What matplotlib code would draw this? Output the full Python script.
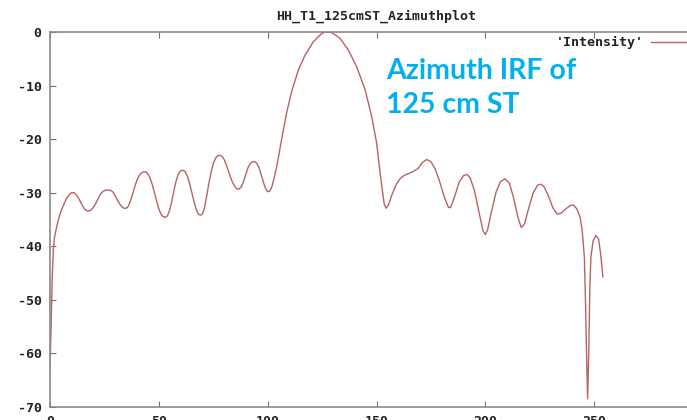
import matplotlib
matplotlib.use("Agg")
import matplotlib.pyplot as plt

# Data (azimuth sample index vs. intensity in dB)
azimuth = [
    0, 0.5, 1, 1.5, 2, 3, 4, 5, 6, 7, 8, 9, 10, 11, 12, 13, 14, 15, 16, 17, 18, 19,
    20, 21, 22, 23, 24, 25, 26, 27, 28, 29, 30, 31, 32, 33, 34, 35, 36, 37, 38, 39,
    40, 41, 42, 43, 44, 45, 46, 47, 48, 49, 50, 51, 52, 53, 54, 55, 56, 57, 58, 59,
    60, 61, 62, 63, 64, 65, 66, 67, 68, 69, 70, 71, 72, 73, 74, 75, 76, 77, 78, 79,
    80, 81, 82, 83, 84, 85, 86, 87, 88, 89, 90, 91, 92, 93, 94, 95, 96, 97, 98, 99,
    100, 101, 102, 103, 104.2, 106.5, 108.8, 111.1, 114.1, 117.2, 121.0, 124.9,
    126.8, 129.4, 133.3, 137.1, 140.9, 144.8, 147.8, 150.1, 151.3, 152.5, 153.5,
    154.4, 155.5, 157, 159, 161, 163, 165, 167, 169, 171, 173, 175, 177, 179, 181,
    183, 184, 186, 188, 190, 191.6, 193, 195, 197, 199, 200, 201, 203, 205, 207,
    209, 211, 213, 215, 216.5, 218, 220, 222, 224, 225.5, 227, 229, 231, 233, 235,
    237, 239, 240.5, 242, 243.5, 244.5, 245.5, 246, 246.5, 247, 247.5, 248, 248.5,
    249.5, 250.8, 252, 253, 254,
]
intensity = [
    -63, -55, -46, -41, -38.5, -36.5, -34.8, -33.5, -32.5, -31.6, -30.8, -30.3,
    -30.0, -30.0, -30.3, -30.9, -31.7, -32.5, -33.1, -33.4, -33.4, -33.2,
    -32.7, -32.0, -31.2, -30.4, -29.9, -29.6, -29.5, -29.5, -29.6, -29.9, -30.6,
    -31.4, -32.1, -32.6, -32.9, -32.9, -32.5, -31.5, -30.2, -28.8,
    -27.6, -26.8, -26.3, -26.1, -26.1, -26.5, -27.3, -28.5, -30.0, -31.6, -33.0,
    -34.0, -34.5, -34.6, -34.3, -33.2, -31.5, -29.5, -27.7, -26.5,
    -25.9, -25.8, -26.0, -26.8, -28.1, -29.7, -31.4, -32.9, -33.9, -34.2, -34.0,
    -32.8, -30.6, -28.2, -26.2, -24.6, -23.6, -23.1, -23.0, -23.2,
    -23.8, -24.8, -26.0, -27.2, -28.2, -28.9, -29.3, -29.3, -28.8, -27.8, -26.5,
    -25.3, -24.6, -24.2, -24.2, -24.5, -25.3, -26.6, -28.0, -29.2,
    -29.8, -29.7, -28.8, -27.2, -25.1, -19.8, -14.9, -11.0,
    -7.1, -4.3, -1.8, -0.25,
    0.0, -0.1, -1.2, -3.4, -6.5, -10.8, -15.8, -20.8, -25.1, -29.0, -32.0,
    -32.9, -32.3, -30.5, -28.5, -27.3, -26.7, -26.4, -26.0, -25.5, -24.4, -23.8,
    -24.2, -25.6, -27.9, -30.6,
    -32.7, -32.8, -30.6, -28.0, -26.8, -26.6, -27.2, -29.6, -33.5, -37.2, -37.8,
    -37.0, -33.2, -29.8, -27.9,
    -27.4, -28.2, -31.0, -34.6, -36.5, -35.8, -32.8, -30.0, -28.6, -28.4, -28.9,
    -30.6, -32.8, -34.0, -33.8,
    -33.0, -32.4, -32.3, -33.0, -34.5, -37.0, -42, -50, -60, -68.5, -60, -48, -42,
    -39, -38.0, -38.6, -41.5, -45.7,
]

title = "HH_T1_125cmST_Azimuthplot"
xticks = [0, 50, 100, 150, 200, 250]
yticks = [0, -10, -20, -30, -40, -50, -60, -70]

mono = {"family": "DejaVu Sans Mono", "weight": "bold"}

W, H = 687, 420
fig = plt.figure(figsize=(W / 100, H / 100), dpi=100)
# axes extends past the right edge (the reference is cropped)
ax = fig.add_axes([50 / W, (H - 407) / H, 653 / W, 375 / H])

ax.plot(azimuth, intensity, color="#b46464", lw=1.0, label="'Intensity'")

ax.set_xlim(0, 300)
ax.set_ylim(-70, 0)
ax.set_xticks(xticks)
ax.set_yticks(yticks)
ax.set_xticklabels([str(t) for t in xticks], fontdict=mono, fontsize=9.5)
ax.set_yticklabels([str(t) for t in yticks], fontdict=mono, fontsize=9.5)
ax.tick_params(direction="in", length=4, width=0.8, color="#707070",
               top=True, right=True, pad=6, labelcolor="#222222")

for s in ax.spines.values():
    s.set_color("#8a8a8a")
    s.set_linewidth(1.2)

ax.set_title(title, fontdict=mono, fontsize=9.5, color="#222222", pad=9)

leg = ax.legend(loc="upper right", bbox_to_anchor=(1.03, 1.02), frameon=False,
                markerfirst=False, handlelength=4.5, handletextpad=0.6,
                prop={"family": "DejaVu Sans Mono", "weight": "bold", "size": 9.5})
for t in leg.get_texts():
    t.set_color("#222222")

fig.text(386 / W, 1 - 58 / H, "Azimuth IRF of\n125 cm ST", color="#00b0f0",
         fontfamily="Lato", fontweight="bold", fontsize=20.5, va="top", ha="left",
         linespacing=1.38)

fig.savefig("out.png", dpi=100)
